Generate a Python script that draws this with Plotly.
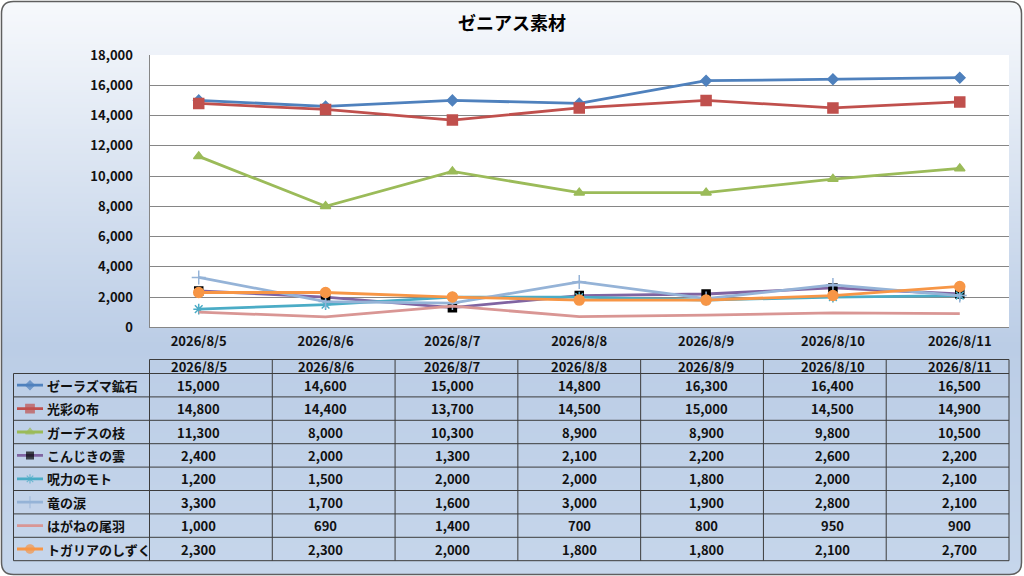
import numpy as np
import plotly.graph_objects as go

W, H = 1024, 576

# ---- data ----
dates = ["2026/8/5", "2026/8/6", "2026/8/7", "2026/8/8", "2026/8/9", "2026/8/10", "2026/8/11"]
names = ["ゼーラズマ鉱石", "光彩の布", "ガーデスの枝", "こんじきの雲",
         "呪力のモト", "竜の涙", "はがねの尾羽", "トガリアのしずく"]
zeraz = [15000, 14600, 15000, 14800, 16300, 16400, 16500]
kosai = [14800, 14400, 13700, 14500, 15000, 14500, 14900]
gades = [11300, 8000, 10300, 8900, 8900, 9800, 10500]
konjiki = [2400, 2000, 1300, 2100, 2200, 2600, 2200]
juryoku = [1200, 1500, 2000, 2000, 1800, 2000, 2100]
ryu = [3300, 1700, 1600, 3000, 1900, 2800, 2100]
hagane = [1000, 690, 1400, 700, 800, 950, 900]
togaria = [2300, 2300, 2000, 1800, 1800, 2100, 2700]
values = [zeraz, kosai, gades, konjiki, juryoku, ryu, hagane, togaria]
y_ticks = [0, 2000, 4000, 6000, 8000, 10000, 12000, 14000, 16000, 18000]

# ---- styles ----
line_colors = ["#4f81bd", "#c0504d", "#9bbb59", "#8064a2",
               "#4bacc6", "#95b3d7", "#d99694", "#f79646"]
marker_colors = ["#4f81bd", "#c0504d", "#9bbb59", "#000000",
                 "#4bacc6", "#95b3d7", "#d99694", "#f79646"]
symbols = ["diamond", "square", "triangle-up", "square",
           "asterisk-open", "cross-thin-open", "circle", "circle"]
msizes = [8, 10, 9, 8, 9, 10, 0, 10]

FONT = "Noto Sans CJK JP"

# pixel layout
px_l, px_r = 149.5, 1009.0      # plot area / table date columns
px_top, px_bot = 55.0, 327.3
tab_top, head_bot, tab_bot = 359.5, 373.5, 560.7
key_l = 13.5


def fx(px):
    return px / W


def fy(py):
    return 1 - py / H


fig = go.Figure()

for i, name in enumerate(names):
    fig.add_trace(go.Scatter(
        x=dates, y=values[i], name=name, mode="lines+markers" if msizes[i] else "lines",
        line=dict(color=line_colors[i], width=2.8),
        marker=dict(symbol=symbols[i], size=msizes[i], color=marker_colors[i],
                    line=dict(color=marker_colors[i], width=1.5)),
        showlegend=False, xaxis="x", yaxis="y"))

    # legend key in the table's first column
    fig.add_trace(go.Scatter(
        x=[0, 0.5, 1], y=[i, i, i], mode="lines+markers",
        line=dict(color=line_colors[i], width=2.8),
        marker=dict(symbol=symbols[i], size=[0, msizes[i] * 0.85, 0], color=marker_colors[i],
                    line=dict(color=marker_colors[i], width=1.2)),
        showlegend=False, hoverinfo="skip", xaxis="x2", yaxis="y2"))

shapes = []

# background gradient, clipped to rounded frame
bx0, by0, bx1, by1, rad = 1.5, 1.5, 1021.5, 574.5, 12.0
stops = [(0.0, (247, 249, 252)), (0.6, (187, 205, 230)), (1.0, (198, 214, 235))]


def grad(t):
    for (t0, c0), (t1, c1) in zip(stops[:-1], stops[1:]):
        if t <= t1:
            u = (t - t0) / (t1 - t0)
            return tuple(int(round(a + (b - a) * u)) for a, b in zip(c0, c1))
    return stops[-1][1]


step = 2.0
ys = np.arange(by0, by1, step)
for y in ys:
    yc = y + step / 2
    d = 0.0
    if yc < by0 + rad:
        dy = by0 + rad - yc
        d = rad - np.sqrt(max(rad ** 2 - dy ** 2, 0))
    elif yc > by1 - rad:
        dy = yc - (by1 - rad)
        d = rad - np.sqrt(max(rad ** 2 - dy ** 2, 0))
    c = grad((yc - by0) / (by1 - by0))
    shapes.append(dict(type="rect", xref="paper", yref="paper", layer="below",
                       x0=fx(bx0 + d), x1=fx(bx1 - d), y0=fy(y), y1=fy(min(y + step + 0.6, by1)),
                       fillcolor="rgb(%d,%d,%d)" % c, line=dict(width=0)))

# white plot area
shapes.append(dict(type="rect", xref="paper", yref="paper", layer="below",
                   x0=fx(px_l), x1=fx(px_r), y0=fy(px_bot), y1=fy(px_top),
                   fillcolor="white", line=dict(width=0)))

# rounded frame
rx, ry = rad / W, rad / H
X0, X1, Y0, Y1 = fx(bx0), fx(bx1), fy(by1), fy(by0)
path = (f"M {X0+rx},{Y1} L {X1-rx},{Y1} Q {X1},{Y1} {X1},{Y1-ry} "
        f"L {X1},{Y0+ry} Q {X1},{Y0} {X1-rx},{Y0} L {X0+rx},{Y0} "
        f"Q {X0},{Y0} {X0},{Y0+ry} L {X0},{Y1-ry} Q {X0},{Y1} {X0+rx},{Y1} Z")
shapes.append(dict(type="path", xref="paper", yref="paper", path=path,
                   line=dict(color="#5f5f5f", width=1.5)))

# table grid
grid_col = "#3c3c3c"
ncol = len(dates)
cw = (px_r - px_l) / ncol
nrow = len(names)
rh = (tab_bot - head_bot) / nrow
shapes.append(dict(type="line", xref="paper", yref="paper", x0=fx(px_l), x1=fx(px_r),
                   y0=fy(tab_top), y1=fy(tab_top), line=dict(color=grid_col, width=1)))
for r in range(nrow + 1):
    yy = fy(head_bot + r * rh)
    shapes.append(dict(type="line", xref="paper", yref="paper", x0=fx(key_l), x1=fx(px_r),
                       y0=yy, y1=yy, line=dict(color=grid_col, width=1)))
shapes.append(dict(type="line", xref="paper", yref="paper", x0=fx(key_l), x1=fx(key_l),
                   y0=fy(head_bot), y1=fy(tab_bot), line=dict(color=grid_col, width=1)))
for c in range(ncol + 1):
    xx = fx(px_l + c * cw)
    shapes.append(dict(type="line", xref="paper", yref="paper", x0=xx, x1=xx,
                       y0=fy(tab_top), y1=fy(tab_bot), line=dict(color=grid_col, width=1)))

annotations = []
annotations.append(dict(text="<b>ゼニアス素材</b>", xref="paper", yref="paper", x=0.5, y=fy(22),
                        xanchor="center", yanchor="middle",
                        showarrow=False, font=dict(family=FONT, size=18, color="black")))
tfont = dict(family=FONT, size=13, color="#111111", weight="bold")
for d in dates:
    annotations.append(dict(text=d, xref="x", yref="paper", x=d, y=fy((tab_top + head_bot) / 2),
                            xanchor="center", yanchor="middle", showarrow=False, font=tfont))
for r, name in enumerate(names):
    yy = fy(head_bot + (r + 0.5) * rh)
    annotations.append(dict(text=name, xref="paper", yref="paper", x=fx(45), y=yy,
                            xanchor="left", yanchor="middle", showarrow=False, font=tfont))
    for d, v in zip(dates, values[r]):
        annotations.append(dict(text=f"{v:,}", xref="x", yref="paper", x=d, y=yy,
                                xanchor="center", yanchor="middle", showarrow=False, font=tfont))

fig.update_layout(
    width=W, height=H,
    margin=dict(l=0, r=0, t=0, b=0, autoexpand=False),
    paper_bgcolor="white", plot_bgcolor="rgba(0,0,0,0)",
    shapes=shapes, annotations=annotations,
    xaxis=dict(domain=[fx(px_l), fx(px_r)], type="category", showgrid=False, automargin=False,
               showline=True, linecolor="#868686", linewidth=1,
               tickfont=tfont,
               ticks="outside", ticklen=2, tickcolor="rgba(0,0,0,0)"),
    yaxis=dict(domain=[fy(px_bot), fy(px_top)], range=[0, 18000], tickvals=y_ticks,
               tickformat=",d", showgrid=True, gridcolor="#868686", gridwidth=1,
               showline=True, linecolor="#868686", linewidth=1, zeroline=False,
               automargin=False, tickfont=tfont,
               ticks="outside", ticklen=13, tickcolor="rgba(0,0,0,0)"),
    xaxis2=dict(domain=[fx(17), fx(43)], range=[0, 1], visible=False, anchor="y2",
                automargin=False),
    yaxis2=dict(domain=[fy(tab_bot), fy(head_bot)], range=[nrow - 0.5, -0.5],
                visible=False, anchor="x2", automargin=False),
)

fig.write_html(
    "out.html",
    config={"displayModeBar": False},
    post_script="document.documentElement.style.margin='0';"
                "document.body.style.margin='0';"
                "document.body.style.overflow='hidden';",
)
